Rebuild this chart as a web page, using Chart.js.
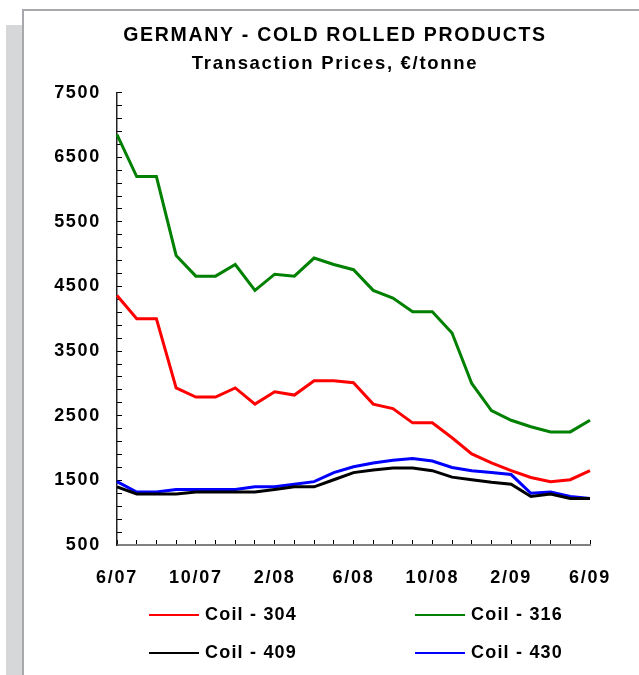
<!DOCTYPE html>
<html>
<head>
<meta charset="utf-8">
<script src="https://cdn.jsdelivr.net/npm/chart.js@4.4.1/dist/chart.umd.min.js"></script>
<style>
  body { margin: 0; background: #fff; overflow: hidden; }
  #page { position: relative; width: 639px; height: 675px; }
  #strip { position: absolute; left: 6px; top: 25px; width: 16px; height: 650px; background: #d6d7d9; }
  #frame { position: absolute; left: 22px; top: 9px; width: 640px; height: 700px;
           border-top: 2px solid #a7a9ac; border-left: 2px solid #a7a9ac; background: #fff; }
  #chart { position: absolute; left: 0; top: 0; }
  #legend .item { position: absolute; height: 20px; line-height: 20px; white-space: nowrap;
                  font: bold 18px "Liberation Sans", Arial, sans-serif; letter-spacing: 1.2px; color: #000; }
  #legend .line { display: inline-block; width: 50px; height: 2px; vertical-align: middle; margin-right: 6px; }
</style>
</head>
<body>
<div id="page">
  <div id="strip"></div>
  <div id="frame"></div>
  <canvas id="chart" width="639" height="675"></canvas>
  <div id="legend"></div>
</div>
<script>
// months from 6/07 to 6/09
var months = ["6/07", "7/07", "8/07", "9/07", "10/07", "11/07", "12/07", "1/08", "2/08", "3/08",
              "4/08", "5/08", "6/08", "7/08", "8/08", "9/08", "10/08", "11/08", "12/08", "1/09",
              "2/09", "3/09", "4/09", "5/09", "6/09"];

// transaction prices, EUR/tonne
var coil304 = [4360, 4000, 4000, 2930, 2790, 2790, 2930, 2680, 2870, 2820, 3040, 3040, 3010,
               2680, 2610, 2390, 2390, 2160, 1910, 1770, 1650, 1545, 1480, 1510, 1650];
var coil316 = [6850, 6200, 6200, 4980, 4660, 4660, 4840, 4440, 4690, 4660, 4940, 4840, 4760,
               4440, 4320, 4110, 4110, 3780, 3000, 2580, 2430, 2330, 2250, 2250, 2430];
var coil409 = [1400, 1290, 1290, 1290, 1320, 1320, 1320, 1320, 1360, 1400, 1400, 1510, 1620,
               1660, 1690, 1690, 1650, 1550, 1510, 1470, 1440, 1250, 1290, 1220, 1220];
var coil430 = [1480, 1320, 1320, 1360, 1360, 1360, 1360, 1400, 1400, 1440, 1480, 1620, 1710,
               1770, 1810, 1840, 1800, 1700, 1650, 1620, 1590, 1300, 1320, 1250, 1220];

var seriesNames = ["Coil - 304", "Coil - 316", "Coil - 409", "Coil - 430"];
var seriesColors = ["#ff0000", "#008000", "#000000", "#0000ff"];

var yMin = 500;
var yMax = 7500;

var fontFamily = '"Liberation Sans", Arial, sans-serif';

// canvas letter spacing, the original text is spaced out a bit
var spacingPlugin = {
    id: "spacing",
    beforeLayout: function(chart) { chart.ctx.letterSpacing = "1.7px"; },
    beforeDraw: function(chart) { chart.ctx.letterSpacing = "1.7px"; }
};

function makeDataset(label, color, values)
{
    return {
        label: label,
        data: values,
        borderColor: color,
        backgroundColor: color,
        borderWidth: 3,
        pointRadius: 0,
        tension: 0,
        fill: false
    };
}

var ctx = document.getElementById("chart");
var priceChart = new Chart(ctx, {
    type: "line",
    data: {
        labels: months,
        datasets: [
            makeDataset(seriesNames[0], seriesColors[0], coil304),
            makeDataset(seriesNames[1], seriesColors[1], coil316),
            makeDataset(seriesNames[2], seriesColors[2], coil409),
            makeDataset(seriesNames[3], seriesColors[3], coil430)
        ]
    },
    plugins: [spacingPlugin],
    options: {
        responsive: false,
        animation: false,
        layout: { padding: { left: 31, right: 0, top: 0, bottom: 90 } },
        plugins: {
            legend: { display: false },
            tooltip: { enabled: false },
            title: {
                display: true,
                text: "GERMANY - COLD ROLLED PRODUCTS",
                color: "#000",
                font: { family: fontFamily, size: 19.5, weight: "bold" },
                padding: { top: 24, bottom: 0 }
            },
            subtitle: {
                display: true,
                text: "Transaction Prices, €/tonne",
                color: "#000",
                font: { family: fontFamily, size: 18.5, weight: "bold" },
                padding: { top: 5, bottom: 18 }
            }
        },
        scales: {
            x: {
                offset: false,
                border: { display: true, color: "#808080", width: 2 },
                grid: { drawOnChartArea: false, drawTicks: true, tickLength: -5, color: "#000", tickWidth: 1 },
                ticks: {
                    autoSkip: false,
                    maxRotation: 0,
                    padding: 27,
                    color: "#000",
                    font: { family: fontFamily, size: 18, weight: "bold" },
                    callback: function(value, index) {
                        return index % 4 === 0 ? months[index] : "";
                    }
                },
                afterFit: function(scale) { scale.height = 40; }
            },
            y: {
                min: yMin,
                max: yMax,
                border: { display: true, color: "#222", width: 1.5 },
                grid: { drawOnChartArea: false, drawTicks: true, tickLength: -5, color: "#000", tickWidth: 1 },
                ticks: {
                    autoSkip: false,
                    stepSize: 200,
                    padding: 21,
                    color: "#000",
                    font: { family: fontFamily, size: 18, weight: "bold" },
                    callback: function(value) {
                        return (value - yMin) % 1000 === 0 ? value : "";
                    }
                },
                afterFit: function(scale) { scale.width = 86; }
            },
            // empty axis on the right, only keeps the space after the plot
            yRight: {
                position: "right",
                min: yMin,
                max: yMax,
                border: { display: false },
                grid: { display: false },
                ticks: { display: false },
                afterFit: function(scale) { scale.width = 49; }
            }
        }
    }
});

// legend in two rows of two, built from the chart's datasets
function buildLegend(chart)
{
    var box = document.getElementById("legend");
    chart.data.datasets.forEach(function(ds, i) {
        var item = document.createElement("div");
        item.className = "item";
        item.style.left = (i % 2 === 0 ? 149 : 415) + "px";
        item.style.top = (i < 2 ? 604 : 642) + "px";
        var line = document.createElement("span");
        line.className = "line";
        line.style.background = ds.borderColor;
        item.appendChild(line);
        item.appendChild(document.createTextNode(ds.label));
        box.appendChild(item);
    });
}
buildLegend(priceChart);
</script>
</body>
</html>
